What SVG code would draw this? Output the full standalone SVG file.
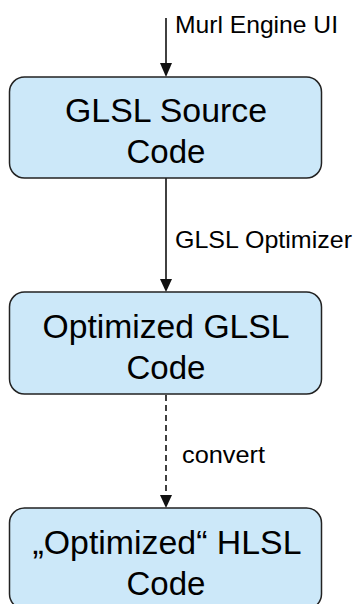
<svg xmlns="http://www.w3.org/2000/svg" width="358" height="604" viewBox="0 0 358 604">
  <style>
    .box { fill: #cce8f9; stroke: #222; stroke-width: 1.5; }
    .box-text { font-family: "Liberation Sans", Arial, sans-serif; font-size: 33px; fill: #000; text-anchor: middle; }
    .label { font-family: "Liberation Sans", Arial, sans-serif; font-size: 24px; fill: #000; }
    .edge { stroke: #111; stroke-width: 1.6; fill: none; }
    .dashed { stroke-dasharray: 6 4; }
    .head { fill: #111; }
  </style>
  <rect width="358" height="604" fill="#ffffff"/>

  <g id="connectors">
    <!-- input from the engine UI -->
    <line class="edge" x1="166" y1="18" x2="166" y2="64"/>
    <polygon class="head" points="160,63 172,63 166,77"/>
    <text class="label" x="175" y="33" textLength="163" lengthAdjust="spacingAndGlyphs">Murl Engine UI</text>

    <!-- GLSL optimizer step -->
    <line class="edge" x1="166" y1="178" x2="166" y2="280"/>
    <polygon class="head" points="160,279 172,279 166,292"/>
    <text class="label" x="175" y="248" textLength="177" lengthAdjust="spacingAndGlyphs">GLSL Optimizer</text>

    <!-- conversion step -->
    <line class="edge dashed" x1="166" y1="395" x2="166" y2="496"/>
    <polygon class="head" points="160,495 172,495 166,508"/>
    <text class="label" x="182" y="463" textLength="83" lengthAdjust="spacingAndGlyphs">convert</text>
  </g>

  <g id="glsl-source">
    <rect class="box" x="9.5" y="77" width="312" height="101" rx="15" ry="15"/>
    <text class="box-text" x="166" y="122" textLength="202" lengthAdjust="spacingAndGlyphs">GLSL Source</text>
    <text class="box-text" x="166" y="163" textLength="79" lengthAdjust="spacingAndGlyphs">Code</text>
  </g>

  <g id="optimized-glsl">
    <rect class="box" x="9.5" y="292" width="312" height="102" rx="15" ry="15"/>
    <text class="box-text" x="166" y="338" textLength="247" lengthAdjust="spacingAndGlyphs">Optimized GLSL</text>
    <text class="box-text" x="166" y="379" textLength="79" lengthAdjust="spacingAndGlyphs">Code</text>
  </g>

  <g id="optimized-hlsl">
    <rect class="box" x="9.5" y="508" width="312" height="101" rx="15" ry="15"/>
    <text class="box-text" x="167" y="554" textLength="269" lengthAdjust="spacingAndGlyphs">„Optimized“ HLSL</text>
    <text class="box-text" x="166" y="595" textLength="79" lengthAdjust="spacingAndGlyphs">Code</text>
  </g>
</svg>
